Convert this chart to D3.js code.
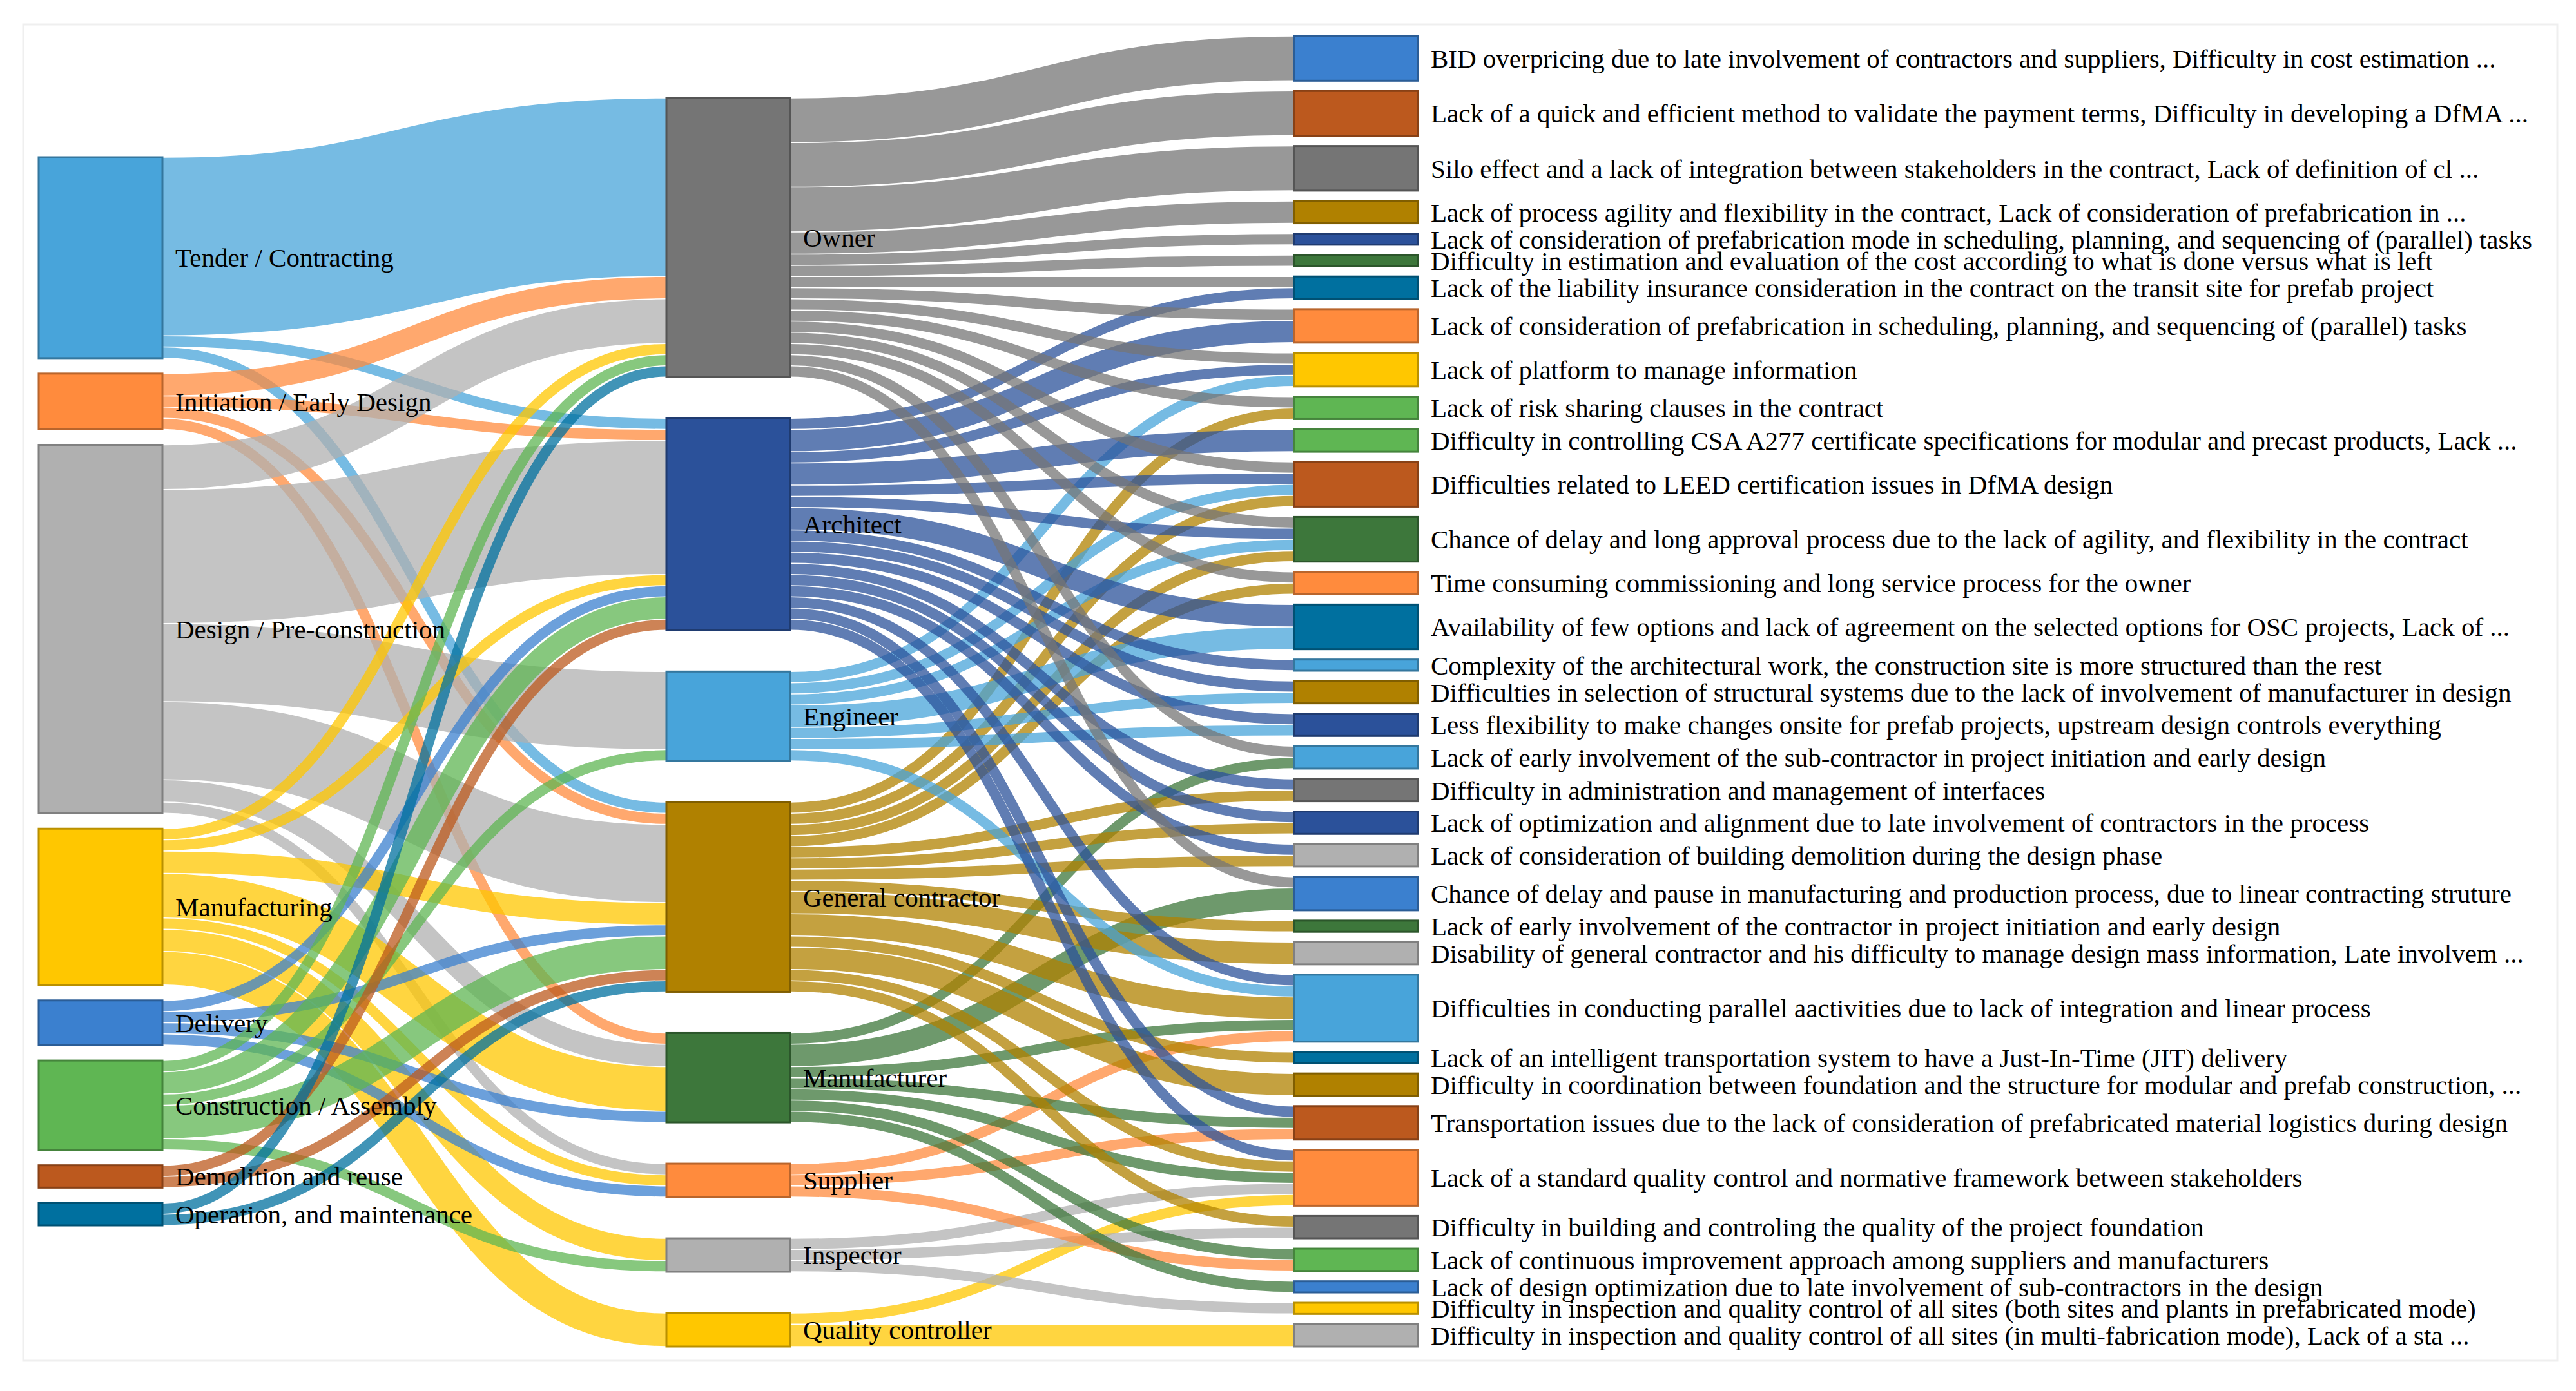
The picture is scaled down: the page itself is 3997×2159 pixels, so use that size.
<!DOCTYPE html>
<html>
<head>
<meta charset="utf-8">
<script src="https://cdn.jsdelivr.net/npm/d3@7"></script>
<style>
  body { margin: 0; background: #fff; }
  text { font-family: "Liberation Serif", "Times New Roman", serif; font-size: 41px; fill: #000; }
</style>
</head>
<body>
<svg width="3997" height="2159"></svg>
<script>
// ---- data ----
const phases = [
    'Tender / Contracting', 'Initiation / Early Design', 'Design / Pre-construction',
    'Manufacturing', 'Delivery', 'Construction / Assembly', 'Demolition and reuse',
    'Operation, and maintenance'
];

const stakeholders = [
    'Owner', 'Architect', 'Engineer', 'General contractor', 'Manufacturer',
    'Supplier', 'Inspector', 'Quality controller'
];

const problems = [
    'BID overpricing due to late involvement of contractors and suppliers, Difficulty in cost estimation ...',
    'Lack of a quick and efficient method to validate the payment terms, Difficulty in developing a DfMA ...',
    'Silo effect and a lack of integration between stakeholders in the contract, Lack of definition of cl ...',
    'Lack of process agility and flexibility in the contract, Lack of consideration of prefabrication in ...',
    'Lack of consideration of prefabrication mode in scheduling, planning, and sequencing of (parallel) tasks',
    'Difficulty in estimation and evaluation of the cost according to what is done versus what is left',
    'Lack of the liability insurance consideration in the contract on the transit site for prefab project',
    'Lack of consideration of prefabrication in scheduling, planning, and sequencing of (parallel) tasks',
    'Lack of platform to manage information',
    'Lack of risk sharing clauses in the contract',
    'Difficulty in controlling CSA A277 certificate specifications for modular and precast products, Lack ...',
    'Difficulties related to LEED certification issues in DfMA design',
    'Chance of delay and long approval process due to the lack of agility, and flexibility in the contract',
    'Time consuming commissioning and long service process for the owner',
    'Availability of few options and lack of agreement on the selected options for OSC projects, Lack of ...',
    'Complexity of the architectural work, the construction site is more structured than the rest',
    'Difficulties in selection of structural systems due to the lack of involvement of manufacturer in design',
    'Less flexibility to make changes onsite for prefab projects, upstream design controls everything',
    'Lack of early involvement of the sub-contractor in project initiation and early design',
    'Difficulty in administration and management of interfaces',
    'Lack of optimization and alignment due to late involvement of contractors in the process',
    'Lack of consideration of building demolition during the design phase',
    'Chance of delay and pause in manufacturing and production process, due to linear contracting struture',
    'Lack of early involvement of the contractor in project initiation and early design',
    'Disability of general contractor and his difficulty to manage design mass information, Late involvem ...',
    'Difficulties in conducting parallel aactivities due to lack of integration and linear process',
    'Lack of an intelligent transportation system to have a Just-In-Time (JIT) delivery',
    'Difficulty in coordination between foundation and the structure for modular and prefab construction, ...',
    'Transportation issues due to the lack of consideration of prefabricated material logistics during design',
    'Lack of a standard quality control and normative framework between stakeholders',
    'Difficulty in building and controling the quality of the project foundation',
    'Lack of continuous improvement approach among suppliers and manufacturers',
    'Lack of design optimization due to late involvement of sub-contractors in the design',
    'Difficulty in inspection and quality control of all sites (both sites and plants in prefabricated mode)',
    'Difficulty in inspection and quality control of all sites (in multi-fabrication mode), Lack of a sta ...'
];

// [phase #, stakeholder #, count]
const phaseLinks = [
    [0, 0, 16], [0, 1, 1], [0, 3, 1],
    [1, 0, 2], [1, 1, 1], [1, 3, 1], [1, 4, 1],
    [2, 0, 4], [2, 1, 12], [2, 2, 7], [2, 3, 7], [2, 4, 2], [2, 5, 1],
    [3, 0, 1], [3, 1, 1], [3, 3, 2], [3, 4, 4], [3, 5, 1], [3, 6, 2], [3, 7, 3],
    [4, 1, 1], [4, 3, 1], [4, 4, 1], [4, 5, 1],
    [5, 0, 1], [5, 1, 2], [5, 2, 1], [5, 3, 3], [5, 6, 1],
    [6, 1, 1], [6, 3, 1],
    [7, 0, 1], [7, 3, 1]
];

// [stakeholder #, problem #, count]
const problemLinks = [
    [0, 0, 4], [0, 1, 4], [0, 2, 4], [0, 3, 2], [0, 4, 1], [0, 5, 1],
    [0, 6, 1], [1, 6, 1],
    [0, 7, 1], [1, 7, 2],
    [0, 8, 1], [1, 8, 1], [2, 8, 1],
    [0, 9, 1], [3, 9, 1],
    [1, 10, 2],
    [0, 11, 1], [1, 11, 1], [2, 11, 1], [3, 11, 1],
    [0, 12, 1], [1, 12, 1], [2, 12, 1], [3, 12, 1],
    [0, 13, 1], [3, 13, 1],
    [1, 14, 2], [2, 14, 2],
    [1, 15, 1],
    [1, 16, 1], [2, 16, 1],
    [1, 17, 1], [2, 17, 1],
    [0, 18, 1], [4, 18, 1],
    [1, 19, 1], [3, 19, 1],
    [1, 20, 1], [3, 20, 1],
    [1, 21, 1], [3, 21, 1],
    [0, 22, 1], [4, 22, 2],
    [3, 23, 1],
    [3, 24, 2],
    [1, 25, 1], [2, 25, 1], [3, 25, 2], [4, 25, 1], [5, 25, 1],
    [3, 26, 1],
    [3, 27, 2],
    [1, 28, 1], [4, 28, 1], [5, 28, 1],
    [1, 29, 1], [3, 29, 1], [4, 29, 1], [6, 29, 1], [7, 29, 1],
    [3, 30, 1], [6, 30, 1],
    [4, 31, 1], [5, 31, 1],
    [4, 32, 1],
    [6, 33, 1],
    [7, 34, 2]
];

// ---- styles ----
const palette = {
    lightblue: '#48a4da', orange: '#ff8b3d', gray: '#b0b0b0', yellow: '#ffc700',
    blue: '#3b80cf', green: '#5fb653', brown: '#bc591e', teal: '#00709f',
    darkgray: '#757575', darkblue: '#2b519a', gold: '#b08100', darkgreen: '#3d773b'
};
const phaseColors = ['lightblue', 'orange', 'gray', 'yellow', 'blue', 'green', 'brown', 'teal'];
const stakeholderColors = ['darkgray', 'darkblue', 'lightblue', 'gold', 'darkgreen', 'orange', 'gray', 'yellow'];
const problemColors = [
    'blue', 'brown', 'darkgray', 'gold', 'darkblue', 'darkgreen', 'teal', 'orange', 'yellow', 'green',
    'green', 'brown', 'darkgreen', 'orange', 'teal', 'lightblue', 'gold', 'darkblue', 'lightblue', 'darkgray',
    'darkblue', 'gray', 'blue', 'darkgreen', 'gray', 'lightblue', 'teal', 'gold', 'brown', 'orange',
    'darkgray', 'green', 'blue', 'yellow', 'gray'
];

const svg = d3.select('svg');
const width = +svg.attr('width');
const height = +svg.attr('height');

// faint frame
svg.append('rect')
    .attr('x', 36).attr('y', 38)
    .attr('width', width - 65).attr('height', height - 85)
    .attr('fill', '#fff')
    .attr('stroke', '#efefef')
    .attr('stroke-width', 3);

const extent = { x0: 60, y0: 56, x1: 2200, y1: 2090 };
const nodeWidth = 192;
const nodePadding = 16;
const sourcePadding = 24;   // first column is packed and centred
// how the free height of the other short columns is shared out
const spareShares = { top: 2, between: 1, bottom: 0 };

// ---- graph ----
const nodes = [
    ...phases.map((name, i) => ({ name, layer: 0, color: palette[phaseColors[i]] })),
    ...stakeholders.map((name, i) => ({ name, layer: 1, color: palette[stakeholderColors[i]] })),
    ...problems.map((name, i) => ({ name, layer: 2, color: palette[problemColors[i]] }))
];
const S = phases.length, P = phases.length + stakeholders.length;
const links = [
    ...phaseLinks.map(([s, t, v]) => ({ source: nodes[s], target: nodes[S + t], value: v })),
    ...problemLinks.map(([s, t, v]) => ({ source: nodes[S + s], target: nodes[P + t], value: v }))
];

nodes.forEach(n => { n.sourceLinks = []; n.targetLinks = []; });
links.forEach(l => { l.source.sourceLinks.push(l); l.target.targetLinks.push(l); });
nodes.forEach(n => {
    n.value = Math.max(d3.sum(n.sourceLinks, l => l.value), d3.sum(n.targetLinks, l => l.value));
});

// ---- layout ----
const columns = d3.groups(nodes, n => n.layer).map(g => g[1]);

const xScale = d3.scaleLinear()
    .domain([0, columns.length - 1])
    .range([extent.x0, extent.x1 - nodeWidth]);

// value scale set by the fullest column
const ky = d3.min(columns, c =>
    (extent.y1 - extent.y0 - (c.length - 1) * nodePadding) / d3.sum(c, n => n.value));
const valueScale = d3.scaleLinear().domain([0, 1]).range([0, ky]);

columns.forEach((col, ci) => {
    const isSource = ci === 0;
    const pad = isSource ? sourcePadding : nodePadding;
    const used = d3.sum(col, n => valueScale(n.value)) + (col.length - 1) * pad;
    const free = extent.y1 - extent.y0 - used;
    let top, extra;
    if (isSource) {
        top = extent.y0 + free / 2;
        extra = 0;
    } else {
        const shares = spareShares.top + (col.length - 1) * spareShares.between + spareShares.bottom;
        const unit = free / shares;
        top = extent.y0 + unit * spareShares.top;
        extra = unit * spareShares.between;
    }
    let y = top;
    col.forEach(n => {
        n.x0 = xScale(n.layer);
        n.x1 = n.x0 + nodeWidth;
        n.y0 = y;
        n.y1 = y + valueScale(n.value);
        y = n.y1 + pad + extra;
    });
});

links.forEach(l => { l.width = valueScale(l.value); });
nodes.forEach(n => {
    n.sourceLinks.sort((a, b) => a.target.y0 - b.target.y0);
    n.targetLinks.sort((a, b) => a.source.y0 - b.source.y0);
    let a = n.y0, b = n.y0;
    n.sourceLinks.forEach(l => { l.y0 = a + l.width / 2; a += l.width; });
    n.targetLinks.forEach(l => { l.y1 = b + l.width / 2; b += l.width; });
});

// ---- draw ----
const linkPath = d3.linkHorizontal()
    .source(d => [d.source.x1, d.y0])
    .target(d => [d.target.x0, d.y1]);

svg.append('g')
    .attr('fill', 'none')
    .selectAll('path').data(links)
    .enter().append('path')
        .attr('d', linkPath)
        .attr('stroke', d => d.source.color)
        .attr('stroke-opacity', 0.75)
        .attr('stroke-width', d => Math.max(1, d.width - 1.5));

svg.append('g')
    .selectAll('rect').data(nodes)
    .enter().append('rect')
        .attr('x', d => d.x0)
        .attr('y', d => d.y0)
        .attr('width', d => d.x1 - d.x0)
        .attr('height', d => d.y1 - d.y0)
        .attr('fill', d => d.color)
        .attr('stroke', d => d3.color(d.color).darker(0.9))
        .attr('stroke-width', 3);

svg.append('g')
    .selectAll('text').data(nodes)
    .enter().append('text')
        .attr('x', d => d.x1 + 20)
        .attr('y', d => (d.y0 + d.y1) / 2)
        .attr('dy', '0.35em')
        .text(d => d.name);
</script>
</body>
</html>
